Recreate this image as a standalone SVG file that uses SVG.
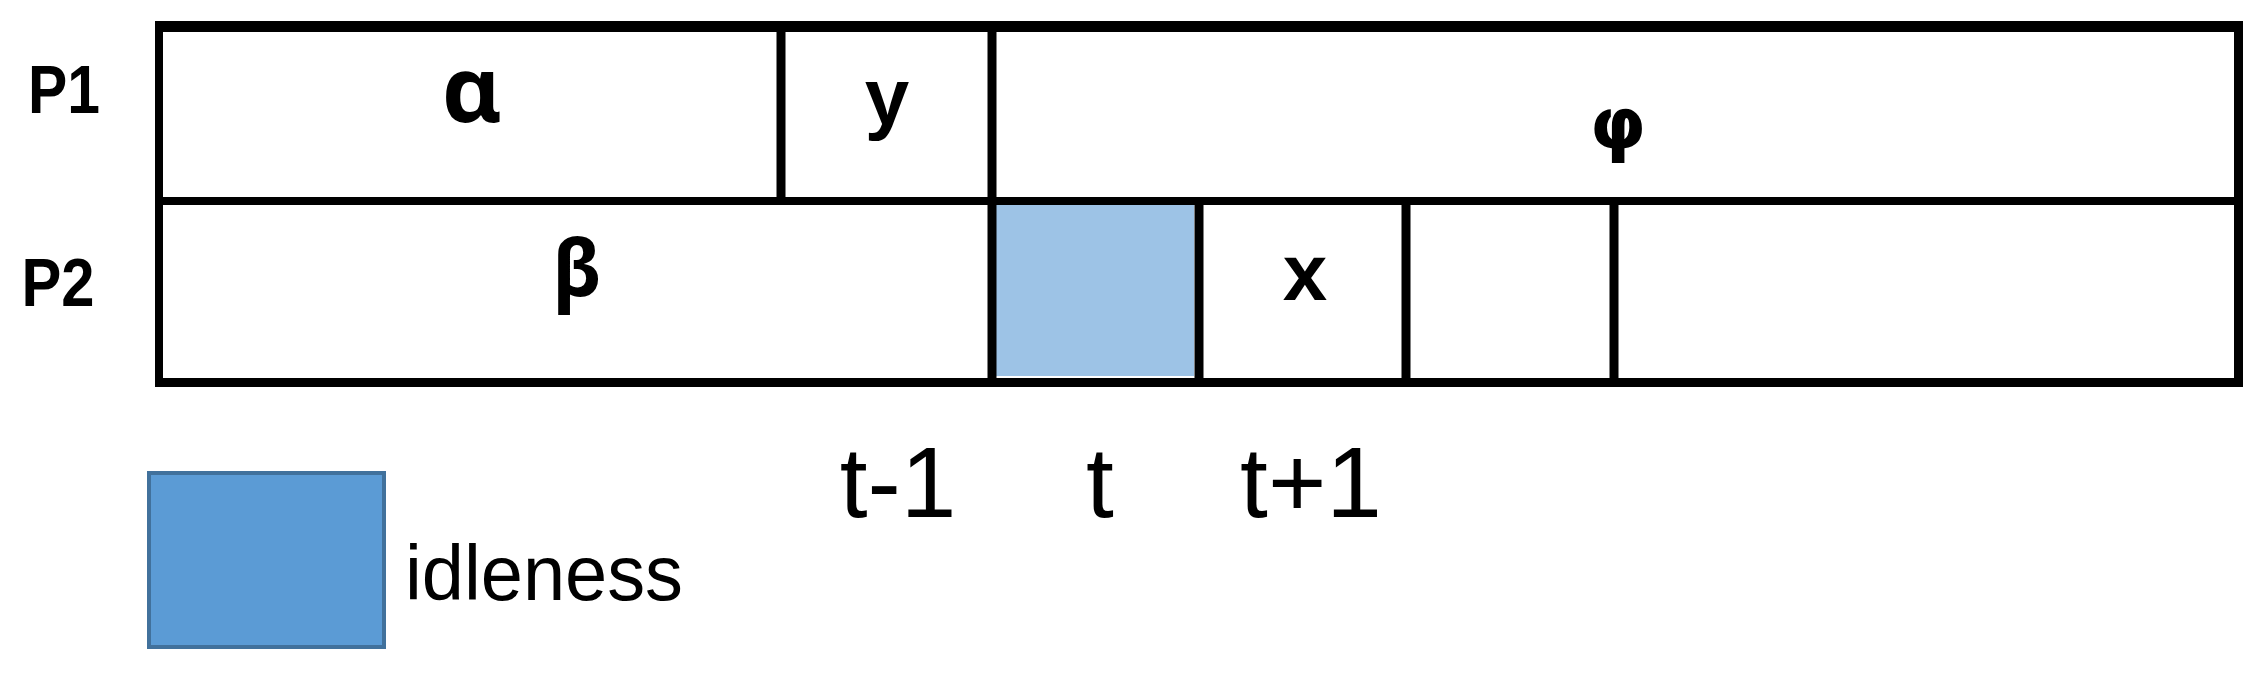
<svg xmlns="http://www.w3.org/2000/svg" width="2262" height="680" viewBox="0 0 2262 680">
<style>
.ln{stroke:#000;stroke-width:9;fill:none}
.lbl{font-family:"Liberation Sans",Arial,sans-serif;font-weight:bold;fill:#000;text-anchor:middle}
.gr{font-family:"Noto Sans","DejaVu Sans",sans-serif;font-weight:bold;fill:#000;text-anchor:middle}
.gr2{font-family:"DejaVu Sans",sans-serif;font-weight:bold;fill:#000;text-anchor:middle}
.tk{font-family:"Liberation Sans",Arial,sans-serif;fill:#000;text-anchor:middle;font-size:100px}
</style>
<rect width="2262" height="680" fill="#fff"/>
<g id="idle-cell"><rect x="996" y="205" width="198" height="171" fill="#9DC3E6"/></g>
<g id="grid">
<line class="ln" x1="155" y1="26.5" x2="2243" y2="26.5" style="stroke-width:11"/>
<line class="ln" x1="155" y1="201" x2="2243" y2="201" style="stroke-width:8"/>
<line class="ln" x1="155" y1="382.5" x2="2243" y2="382.5"/>
<line class="ln" x1="159" y1="21" x2="159" y2="387" style="stroke-width:8"/>
<line class="ln" x1="2238.5" y1="21" x2="2238.5" y2="387"/>
<line class="ln" x1="781" y1="26" x2="781" y2="201"/>
<line class="ln" x1="992" y1="26" x2="992" y2="383"/>
<line class="ln" x1="1199" y1="201" x2="1199" y2="383"/>
<line class="ln" x1="1406" y1="201" x2="1406" y2="383"/>
<line class="ln" x1="1614" y1="201" x2="1614" y2="383"/>
</g>
<g id="rows">
<text class="lbl" x="64" y="113" font-size="68" textLength="72" lengthAdjust="spacingAndGlyphs">P1</text>
<text class="lbl" x="58" y="306" font-size="68" textLength="73" lengthAdjust="spacingAndGlyphs">P2</text>
</g>
<g id="task-alpha"><text class="gr" x="472" y="122" font-size="92">α</text></g>
<g id="task-y"><text class="lbl" x="887" y="124" font-size="80">y</text></g>
<g id="task-phi"><text class="gr2" x="1618" y="148" font-size="72">φ</text></g>
<g id="task-beta"><text class="gr" x="577" y="296" font-size="78">β</text></g>
<g id="task-x"><text class="lbl" x="1305" y="300" font-size="80">x</text></g>
<g id="ticks">
<text class="tk" x="898" y="517">t-1</text>
<text class="tk" x="1100" y="517">t</text>
<text class="tk" x="1311" y="517">t+1</text>
</g>
<g id="legend">
<rect x="149" y="473" width="235" height="174" fill="#5B9BD5" stroke="#41719C" stroke-width="4"/>
<text x="405" y="600" font-family="'Liberation Sans',Arial,sans-serif" font-size="78" fill="#000" textLength="278" lengthAdjust="spacingAndGlyphs">idleness</text>
</g>
</svg>
